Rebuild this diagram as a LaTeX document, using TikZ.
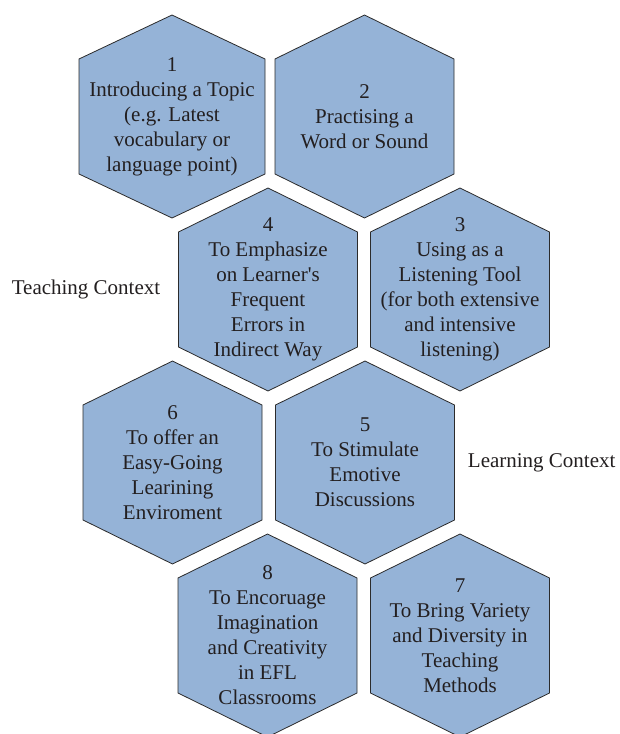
\documentclass[tikz,border=0pt]{standalone}
\usepackage{fontspec}
\setmainfont{Liberation Serif}
\usetikzlibrary{positioning}

\definecolor{hexfill}{HTML}{95B3D7}
\definecolor{hexedge}{HTML}{2B2B2B}
\definecolor{inktext}{HTML}{231F20}

\begin{document}
\begin{tikzpicture}[
    x=1pt, y=1pt,
    hexline/.style={draw=hexedge, fill=hexfill, line width=0.8pt, line join=miter},
    hextext/.style={align=center, text=inktext, font=\fontsize{21}{25}\selectfont, inner sep=0pt},
    context/.style={text=inktext, font=\fontsize{21}{25}\selectfont, inner sep=0pt}
]
    \useasboundingbox (0,0) rectangle (619,-734);

    % Hexagon outlines: centre x / centre y / half width
    \foreach \cx/\cy/\hw in {172/-116.5/93, 364.5/-116.5/89.5, 268/-289.5/89.5, 460/-289.5/89.5,
                             172.5/-462.5/89.5, 365/-462.5/89.5, 267.5/-635.5/89.5, 460/-635.5/89.5}
        \draw[hexline] (\cx,\cy+101.5) -- (\cx+\hw,\cy+57.5) -- (\cx+\hw,\cy-57.5)
            -- (\cx,\cy-101.5) -- (\cx-\hw,\cy-57.5) -- (\cx-\hw,\cy+57.5) -- cycle;

    % Row 1
    \node[hextext] (intro) at (172,-116.5) {1\\Introducing a Topic\\(e.g. Latest\\vocabulary or\\language point)};
    \node[hextext] (practise) at (364.5,-116.5) {2\\Practising a\\Word or Sound};

    % Row 2
    \node[hextext] (emphasize) at (268,-289.5) {4\\To Emphasize\\on Learner\textquotesingle s\\Frequent\\Errors in\\Indirect Way};
    \node[hextext] (listening) at (460,-289.5) {3\\Using as a\\Listening Tool\\(for both extensive\\and intensive\\listening)};

    % Row 3
    \node[hextext] (easygoing) at (172.5,-462.5) {6\\To offer an\\Easy-Going\\Learining\\Enviroment};
    \node[hextext] (stimulate) at (365,-462.5) {5\\To Stimulate\\Emotive\\Discussions};

    % Row 4
    \node[hextext] (imagination) at (267.5,-635.5) {8\\To Encoruage\\Imagination\\and Creativity\\in EFL\\Classrooms};
    \node[hextext] (variety) at (460,-635.5) {7\\To Bring Variety\\and Diversity in\\Teaching\\Methods};

    % Context labels
    \node[context] (teaching) at (86,-289.5) {Teaching Context};
    \node[context] (learning) at (541.7,-463) {Learning Context};

\end{tikzpicture}
\end{document}
